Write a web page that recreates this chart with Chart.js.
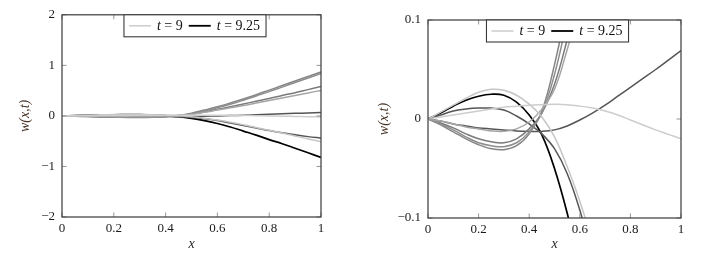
<!DOCTYPE html>
<html><head><meta charset="utf-8">
<script src="https://cdn.jsdelivr.net/npm/chart.js@4"></script>
<style>
html,body{margin:0;padding:0;background:#fff;width:709px;height:261px;overflow:hidden}
.box{position:absolute;top:0}
#b1{left:0;width:350px;height:261px}
#b2{left:360px;width:349px;height:261px}
</style></head><body>
<div id="b1" class="box"><canvas id="c1"></canvas></div>
<div id="b2" class="box"><canvas id="c2"></canvas></div>
<script>
// ---- data ----
const xs = [0,0.05,0.1,0.15,0.2,0.25,0.3,0.35,0.4,0.45,0.5,0.55,0.6,0.65,0.7,0.75,0.8,0.85,0.9,0.95,1];
const curveF = [0,0.002,0.004,0.006,0.008,0.010,0.012,0.013,0.014,0.0145,0.0148,0.0145,0.013,0.011,0.008,0.004,-0.001,-0.006,-0.011,-0.0155,-0.02];
const curveH = [0,0.007,0.014,0.021,0.027,0.030,0.029,0.024,0.015,0.002,-0.018,-0.048,-0.083,-0.125,-0.175,-0.23,-0.285,-0.34,-0.4,-0.455,-0.51];
const curveD = [0,-0.002,-0.005,-0.008,-0.01,-0.012,-0.0125,-0.01,-0.003,0.01,0.03,0.07,0.115,0.16,0.205,0.255,0.305,0.355,0.405,0.455,0.505];
const curveB = [0,-0.005,-0.011,-0.018,-0.024,-0.027,-0.028,-0.024,-0.013,0.006,0.045,0.1,0.16,0.23,0.31,0.395,0.48,0.57,0.66,0.75,0.84];
const curveA = [0,-0.006,-0.013,-0.02,-0.026,-0.03,-0.031,-0.027,-0.015,0.008,0.055,0.115,0.18,0.255,0.335,0.42,0.51,0.6,0.69,0.78,0.87];
const curveC = [0,-0.004,-0.009,-0.015,-0.02,-0.023,-0.024,-0.02,-0.01,0.006,0.035,0.08,0.13,0.18,0.235,0.29,0.345,0.405,0.46,0.52,0.58];
const curveE = [0,-0.002,-0.005,-0.007,-0.009,-0.010,-0.011,-0.012,-0.0125,-0.0125,-0.011,-0.007,-0.001,0.006,0.014,0.023,0.032,0.041,0.050,0.0595,0.069];
const curveG = [0,0.004,0.008,0.010,0.011,0.011,0.009,0.003,-0.005,-0.015,-0.03,-0.055,-0.092,-0.14,-0.19,-0.24,-0.29,-0.335,-0.375,-0.41,-0.44];
const curveI = [0,0.006,0.013,0.019,0.023,0.025,0.024,0.017,0.004,-0.016,-0.05,-0.095,-0.15,-0.22,-0.30,-0.38,-0.47,-0.55,-0.64,-0.73,-0.82];

const xTicks = [0,0.2,0.4,0.6,0.8,1];
const xTickLabels = ['0','0.2','0.4','0.6','0.8','1'];
const yTicksLeft = [-2,-1,0,1,2];
const yTickLabelsLeft = ['\u22122','\u22121','0','1','2'];
const yTicksRight = [-0.1,0,0.1];
const yTickLabelsRight = ['\u22120.1','0','0.1'];
const legendValues = ['9','9.25'];
const xTitle = 'x';
const yTitle = 'w(x,t)';

// ---- styles ----
const curves = [
  {v: curveF, c: '#cdcdcd', w: 1.5},
  {v: curveH, c: '#c6c6c6', w: 1.5},
  {v: curveD, c: '#a6a6a6', w: 1.5},
  {v: curveB, c: '#8e8e8e', w: 1.5},
  {v: curveA, c: '#858585', w: 1.5},
  {v: curveC, c: '#7a7a7a', w: 1.5},
  {v: curveE, c: '#555555', w: 1.5},
  {v: curveG, c: '#555555', w: 1.5},
  {v: curveI, c: '#000000', w: 1.7}
];
const legendStyles = [{c:'#cdcdcd', w:1.5},{c:'#000000', w:1.8}];
const SERIF = '"Liberation Serif", "DejaVu Serif", serif';

function labelFor(ticks, labels, v){
  for (let i=0;i<ticks.length;i++) if (Math.abs(ticks[i]-v) < 1e-9) return labels[i];
  return '';
}

const framePlugin = {
  id: 'frame',
  afterDatasetsDraw(chart, args, opts) {
    const {ctx, chartArea} = chart;
    const {left, right, top, bottom} = chartArea;
    const xs_ = chart.scales.x, ys_ = chart.scales.y;
    ctx.save();
    ctx.strokeStyle = '#8a8a8a';
    ctx.lineWidth = 0.9;
    const tl = 4.5;
    ctx.beginPath();
    for (const v of xTicks) {
      const px = xs_.getPixelForValue(v);
      ctx.moveTo(px, bottom); ctx.lineTo(px, bottom - tl);
      ctx.moveTo(px, top); ctx.lineTo(px, top + tl);
    }
    for (const v of opts.yTicks) {
      const py = ys_.getPixelForValue(v);
      ctx.moveTo(left, py); ctx.lineTo(left + tl, py);
      ctx.moveTo(right, py); ctx.lineTo(right - tl, py);
    }
    ctx.stroke();
    ctx.strokeStyle = '#3a3a3a';
    ctx.lineWidth = 1.2;
    ctx.strokeRect(left, top, right - left, bottom - top);

    // legend
    const fs = 14;
    const fIt = 'italic ' + fs + 'px ' + SERIF;
    const fRm = fs + 'px ' + SERIF;
    const lineLen = 22, pad = 5, gapLT = 6, gapE = 6;
    ctx.font = fIt; const tW = ctx.measureText('t').width;
    ctx.font = fRm;
    const parts = legendValues.map(s => ' = ' + s);
    const pW = parts.map(p => ctx.measureText(p).width);
    let total = pad;
    for (let i=0;i<parts.length;i++) {
      total += lineLen + gapLT + tW + pW[i];
      total += (i < parts.length-1) ? gapE : pad + 1;
    }
    const h = 22;
    const bx = (left + right) / 2 + opts.legendShift - total / 2;
    const by = top;
    ctx.fillStyle = '#fff';
    ctx.fillRect(bx, by, total, h);
    ctx.strokeStyle = '#3a3a3a';
    ctx.lineWidth = 1.1;
    ctx.strokeRect(bx, by, total, h);
    let cx = bx + pad;
    const cy = by + h / 2;
    for (let i=0;i<parts.length;i++) {
      ctx.strokeStyle = legendStyles[i].c;
      ctx.lineWidth = legendStyles[i].w;
      ctx.beginPath(); ctx.moveTo(cx, cy); ctx.lineTo(cx + lineLen, cy); ctx.stroke();
      cx += lineLen + gapLT;
      ctx.fillStyle = '#111';
      ctx.textBaseline = 'middle';
      ctx.textAlign = 'left';
      ctx.font = fIt; ctx.fillText('t', cx, cy + 0.5);
      cx += tW;
      ctx.font = fRm; ctx.fillText(parts[i], cx, cy + 0.5);
      cx += pW[i] + gapE;
    }
    ctx.restore();
  }
};

function makeChart(id, cfg) {
  return new Chart(document.getElementById(id), {
    type: 'line',
    data: {
      datasets: curves.map(cv => ({
        data: xs.map((x, i) => ({x: x, y: cv.v[i]})),
        borderColor: cv.c,
        borderWidth: cv.w,
        pointRadius: 0,
        fill: false,
        tension: 0.4,
        cubicInterpolationMode: 'default'
      }))
    },
    options: {
      responsive: true,
      maintainAspectRatio: false,
      animation: false,
      events: [],
      layout: {padding: {left: 0, right: cfg.padRight, top: cfg.padTop, bottom: 0}},
      plugins: {
        legend: {display: false},
        tooltip: {enabled: false},
        frame: {yTicks: cfg.yTicks, legendShift: cfg.legendShift}
      },
      scales: {
        x: {
          type: 'linear', min: 0, max: 1,
          afterBuildTicks: s => { s.ticks = xTicks.map(v => ({value: v})); },
          afterFit: s => { s.height = cfg.xH; },
          ticks: {
            callback: v => labelFor(xTicks, xTickLabels, v),
            font: {family: SERIF, size: 13}, color: '#1a1a1a',
            padding: 4, maxRotation: 0, autoSkip: false
          },
          grid: {display: false, drawTicks: false},
          border: {display: false},
          title: {display: true, text: xTitle, color: '#222',
            font: {family: SERIF, size: 14, style: 'italic'},
            padding: {top: 0, bottom: 8}}
        },
        y: {
          type: 'linear', min: cfg.yMin, max: cfg.yMax,
          afterBuildTicks: s => { s.ticks = cfg.yTicks.map(v => ({value: v})); },
          afterFit: s => { s.width = cfg.yW; },
          ticks: {
            callback: v => labelFor(cfg.yTicks, cfg.yLabels, v),
            font: {family: SERIF, size: 13}, color: '#1a1a1a',
            padding: 7, autoSkip: false
          },
          grid: {display: false, drawTicks: false},
          border: {display: false},
          title: {display: true, text: yTitle, color: '#4a3428',
            font: {family: SERIF, size: 14, style: 'italic'},
            padding: {top: cfg.yTitlePad, bottom: 0}}
        }
      }
    },
    plugins: [framePlugin]
  });
}

makeChart('c1', {yMin: -2, yMax: 2, yTicks: yTicksLeft, yLabels: yTickLabelsLeft,
  padRight: 29, padTop: 13, xH: 44, yW: 62, yTitlePad: 17, legendShift: 3.5});
makeChart('c2', {yMin: -0.1, yMax: 0.1, yTicks: yTicksRight, yLabels: yTickLabelsRight,
  padRight: 28, padTop: 20, xH: 43, yW: 68, yTitlePad: 15.5, legendShift: 3});
</script>
</body></html>
